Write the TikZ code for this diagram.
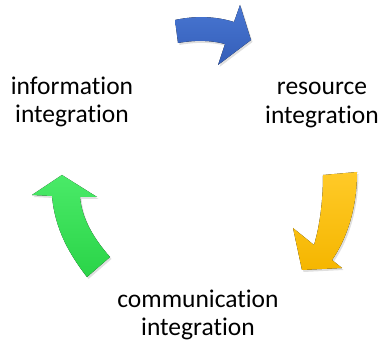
\documentclass[tikz,border=0pt]{standalone}
\usepackage{fontspec}
\setmainfont{Carlito}[Ligatures=NoCommon]
\usetikzlibrary{shadows}

\definecolor{arrblue}{RGB}{72,118,210}
\definecolor{arrblueD}{RGB}{52,94,184}
\definecolor{arryellow}{RGB}{255,202,40}
\definecolor{arryellowD}{RGB}{245,182,0}
\definecolor{arrgreen}{RGB}{74,234,104}
\definecolor{arrgreenD}{RGB}{42,212,72}

\tikzset{
  bigarrow/.style={draw=none, drop shadow={opacity=0.25, shadow xshift=1.5pt, shadow yshift=-2pt}},
  steplabel/.style={align=center, inner sep=0.75pt, font=\fontsize{25.5}{28.5}\selectfont}
}

\begin{document}
\begin{tikzpicture}[x=1pt,y=1pt,yscale=-1,xscale=1]
\useasboundingbox (0,0) rectangle (385,344);

%Shape: Arrow blue [top]
\fill [bigarrow, top color=arrblue, bottom color=arrblueD] (175,20) .. controls (198,15) and (218,17) .. (234,22) -- (240,5) -- (251,40) -- (218,65) -- (225,44) .. controls (210,40) and (195,40) .. (178,43) -- cycle ;
%Shape: Arrow yellow [right]
\fill [bigarrow, top color=arryellow, bottom color=arryellowD] (323,175) -- (357,172) .. controls (357,210) and (346,240) .. (332,260) -- (342,268) -- (302,270) -- (293,228) -- (314,245) .. controls (320,225) and (323,200) .. (323,175) -- cycle ;
%Shape: Arrow green [left]
\fill [bigarrow, top color=arrgreen, bottom color=arrgreenD] (62,175) -- (97,197) -- (80,197) .. controls (82,220) and (95,240) .. (110,257) -- (87,277) .. controls (70,255) and (55,230) .. (52,196) -- (32,195) -- cycle ;

% Text Node
\node [steplabel] (info) at (72,102) {information\\integration};
% Text Node
\node [steplabel] (resource) at (322,105) {resource\\integration};
% Text Node
\node [steplabel] (comm) at (198,315) {communication\\integration};

\end{tikzpicture}
\end{document}
